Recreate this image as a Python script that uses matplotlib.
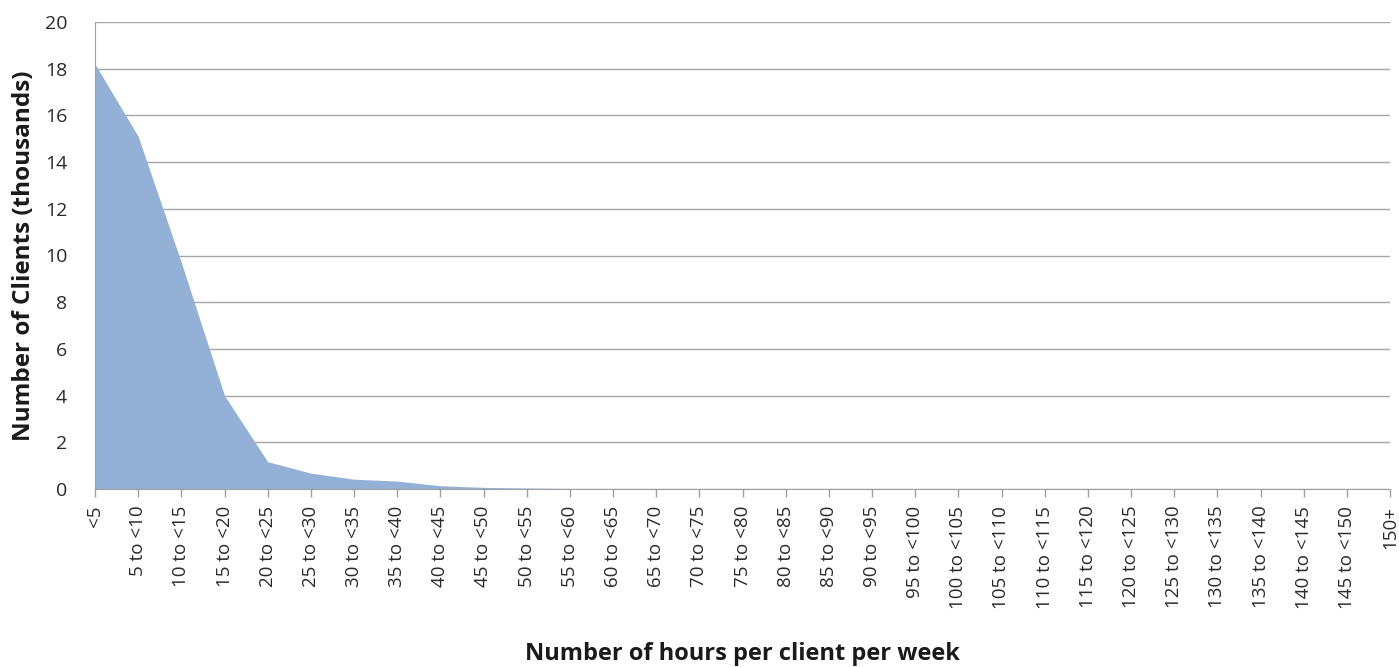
import matplotlib
matplotlib.use("Agg")
import matplotlib.pyplot as plt
import numpy as np

categories = ["<5", "5 to <10", "10 to <15", "15 to <20", "20 to <25", "25 to <30",
              "30 to <35", "35 to <40", "40 to <45", "45 to <50", "50 to <55", "55 to <60",
              "60 to <65", "65 to <70", "70 to <75", "75 to <80", "80 to <85", "85 to <90",
              "90 to <95", "95 to <100", "100 to <105", "105 to <110", "110 to <115",
              "115 to <120", "120 to <125", "125 to <130", "130 to <135", "135 to <140",
              "140 to <145", "145 to <150", "150+"]
clients_thousands = [18.2, 15.1, 9.7, 4.0, 1.17, 0.68, 0.42, 0.34, 0.14, 0.07, 0.04, 0.02,
                     0.01, 0.01, 0.01, 0.005, 0.005, 0.005, 0.003, 0.003, 0.002, 0.002, 0.002,
                     0.001, 0.001, 0.001, 0.001, 0.001, 0.001, 0.001, 0.002]
y_ticks = [0, 2, 4, 6, 8, 10, 12, 14, 16, 18, 20]

plt.rcParams['font.family'] = ['Open Sans', 'DejaVu Sans']

fig = plt.figure(figsize=(13.99, 6.68), dpi=100)
ax = fig.add_axes([95/1399, 1-489/668, (1390-95)/1399, (489-22)/668])

x = np.arange(len(categories))
ax.fill_between(x, clients_thousands, 0, color="#93B1D6", linewidth=0, zorder=2)

ax.set_xlim(0, len(categories)-1)
ax.set_ylim(0, 20)
ax.set_yticks(y_ticks)
ax.set_xticks(x)
ax.set_xticklabels(categories, rotation=90, ha="center", va="top", fontsize=13.5, color="#2a2a2a")
ax.tick_params(axis="y", length=0, labelsize=14, labelcolor="#2a2a2a", pad=20)
ax.tick_params(axis="x", length=6, color="#A0A0A0", width=1, direction="out", pad=6)

ax.grid(axis="y", color="#A6A6A6", linewidth=1, zorder=1)
ax.set_axisbelow(True)
for s in ["top", "right"]:
    ax.spines[s].set_visible(False)
ax.spines["left"].set_color("#A0A0A0")
ax.spines["bottom"].set_color("#A0A0A0")

ax.set_ylabel("Number of Clients (thousands)", fontsize=17.5, fontweight="bold", color="#1a1a1a", labelpad=6)
ax.set_xlabel("Number of hours per client per week", fontsize=17, fontweight="bold", color="#1a1a1a", labelpad=24)

fig.savefig("out.png", dpi=100)
